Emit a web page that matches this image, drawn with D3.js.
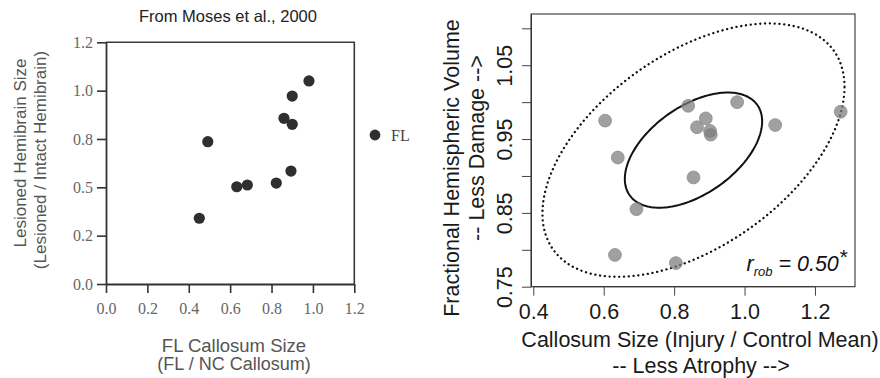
<!DOCTYPE html>
<html>
<head>
<meta charset="utf-8">
<script src="https://cdn.jsdelivr.net/npm/d3@7"></script>
<style>
  body { margin: 0; background: #fff; }
  svg { display: block; }
</style>
</head>
<body>
<svg id="chart" width="880" height="378"></svg>
<script>
// ---- Left panel: Moses et al., 2000 (FL group) ----
const mosesCallosum  = [0.492, 0.981, 0.900, 0.860, 0.900, 0.894, 0.823, 0.632, 0.683, 0.451];
const mosesHemibrain = [0.736, 1.050, 0.972, 0.857, 0.826, 0.584, 0.522, 0.503, 0.512, 0.340];
const mosesXTicks = [0, 0.2, 0.4, 0.6, 0.8, 1.0, 1.2];
const mosesYTicks = [0, 0.25, 0.5, 0.75, 1.0, 1.25];
const mosesYTickLabels = ["0.0", "0.2", "0.5", "0.8", "1.0", "1.2"];

// ---- Right panel: callosum size vs. fractional hemispheric volume ----
const callosumSize = [0.604, 0.640, 0.840, 0.890, 0.865, 0.902, 0.904, 0.979, 1.087, 1.273, 0.855, 0.693, 0.632, 0.805];
const hemisphericVolume = [0.975, 0.925, 0.995, 0.978, 0.966, 0.961, 0.956, 1.000, 0.969, 0.987, 0.898, 0.855, 0.793, 0.782];
const xTicks = [0.4, 0.6, 0.8, 1.0, 1.2];
const yTicks = [0.75, 0.80, 0.85, 0.90, 0.95, 1.00, 1.05, 1.10];
const yTickLabels = ["0.75", "", "0.85", "", "0.95", "", "1.05", ""];
const rRob = 0.50;
const ellipseCenter = [0.855, 0.935];
const ellipseSpread = [0.195, 0.078];
const ellipseLevels = [1, 2.2];

const svg = d3.select("#chart");
const sans = "'Liberation Sans', Arial, Helvetica, sans-serif";
const serif = "'Liberation Serif', 'Times New Roman', serif";

// ================= Left panel =================
const xL = d3.scaleLinear().domain([0, 1.2]).range([106, 354.3]);
const yL = d3.scaleLinear().domain([0, 1.25]).range([284, 42.3]);
const gL = svg.append("g");

gL.append("text")
  .attr("x", 228).attr("y", 21.5)
  .attr("text-anchor", "middle")
  .style("font-family", sans).style("font-size", "16.5px").style("fill", "#222")
  .text("From Moses et al., 2000");

// frame
gL.append("path")
  .attr("d", `M${xL(0)},${yL(1.25)}H${xL(1.2)}V${yL(0)}`)
  .attr("fill", "none").attr("stroke", "#3a3a3a").attr("stroke-width", 1.6);

const axLy = gL.append("g").attr("transform", `translate(${xL(0)},0)`)
  .call(d3.axisLeft(yL).tickValues(mosesYTicks)
    .tickFormat((d, i) => mosesYTickLabels[i]).tickSize(9).tickSizeOuter(0).tickPadding(4));
const axLx = gL.append("g").attr("transform", `translate(0,${yL(0)})`)
  .call(d3.axisBottom(xL).tickValues(mosesXTicks)
    .tickFormat(d3.format(".1f")).tickSize(9).tickSizeOuter(0).tickPadding(10));
[axLy, axLx].forEach(ax => {
  ax.select(".domain").attr("stroke", "#333").attr("stroke-width", 1.8);
  ax.selectAll(".tick line").attr("stroke", "#333").attr("stroke-width", 1.6);
  ax.selectAll(".tick text").style("font-family", serif).style("font-size", "16px").style("fill", "#666");
});

gL.selectAll("circle.fl")
  .data(mosesCallosum.map((x, i) => [x, mosesHemibrain[i]]))
  .join("circle").attr("class", "fl")
  .attr("cx", d => xL(d[0])).attr("cy", d => yL(d[1]))
  .attr("r", 5.6).attr("fill", "#2f2f2f");

// legend
gL.append("circle").attr("cx", 375).attr("cy", 135).attr("r", 5.4).attr("fill", "#2f2f2f");
gL.append("text").attr("x", 391).attr("y", 141)
  .style("font-family", serif).style("font-size", "16px").style("fill", "#444").text("FL");

// axis titles
gL.append("text").attr("transform", "translate(26,153) rotate(-90)")
  .attr("text-anchor", "middle")
  .style("font-family", sans).style("font-size", "17px").style("fill", "#555")
  .text("Lesioned Hemibrain Size");
gL.append("text").attr("transform", "translate(46,160) rotate(-90)")
  .attr("text-anchor", "middle")
  .style("font-family", sans).style("font-size", "17px").style("fill", "#555")
  .text("(Lesioned / Intact Hemibrain)");
gL.append("text").attr("x", 234).attr("y", 352)
  .attr("text-anchor", "middle")
  .style("font-family", sans).style("font-size", "18.5px").style("fill", "#555")
  .text("FL Callosum Size");
gL.append("text").attr("x", 234).attr("y", 370)
  .attr("text-anchor", "middle")
  .style("font-family", sans).style("font-size", "18px").style("fill", "#555")
  .text("(FL / NC Callosum)");

// ================= Right panel =================
const xR = d3.scaleLinear().domain([0.3935, 1.3137]).range([531, 855]);
const yR = d3.scaleLinear().domain([0.75, 1.1194]).range([286.7, 14]);
const gR = svg.append("g");

gR.append("rect")
  .attr("x", 531).attr("y", 14).attr("width", 855 - 531).attr("height", 286.7 - 14)
  .attr("fill", "none").attr("stroke", "#333").attr("stroke-width", 1.1);

const axRy = gR.append("g").attr("transform", `translate(${xR.range()[0]},0)`)
  .call(d3.axisLeft(yR).tickValues(yTicks)
    .tickFormat((d, i) => yTickLabels[i]).tickSize(9).tickSizeOuter(0));
axRy.selectAll(".tick text")
  .attr("x", 0).attr("dy", null)
  .attr("text-anchor", "middle")
  .attr("transform", "translate(-19.5,0) rotate(-90)");
const axRx = gR.append("g").attr("transform", `translate(0,${yR.range()[0]})`)
  .call(d3.axisBottom(xR).tickValues(xTicks)
    .tickFormat(d3.format(".1f")).tickSize(9).tickSizeOuter(0).tickPadding(8));
axRx.select(".domain").attr("d", `M${xR(xTicks[0])},0H${xR(xTicks[xTicks.length - 1])}`);
[axRy, axRx].forEach(ax => {
  ax.select(".domain").attr("stroke", "#333");
  ax.selectAll(".tick line").attr("stroke", "#444");
  ax.selectAll(".tick text").style("font-family", sans).style("font-size", "21.5px").style("fill", "#1a1a1a");
});

// robust covariance ellipses
const angles = d3.range(0, 361, 2).map(a => a * Math.PI / 180);
const ellipseLine = d3.line().x(d => xR(d[0])).y(d => yR(d[1])).curve(d3.curveLinearClosed);
const ellipsePoints = k => angles.map(t => [
  ellipseCenter[0] + k * ellipseSpread[0] * Math.cos(t),
  ellipseCenter[1] + k * ellipseSpread[1] * (rRob * Math.cos(t) + Math.sqrt(1 - rRob * rRob) * Math.sin(t))
]);
gR.append("path").attr("d", ellipseLine(ellipsePoints(ellipseLevels[1])))
  .attr("fill", "none").attr("stroke", "#111").attr("stroke-width", 2.3)
  .attr("stroke-linecap", "round").attr("stroke-dasharray", "0.1 4.7");
gR.append("path").attr("d", ellipseLine(ellipsePoints(ellipseLevels[0])))
  .attr("fill", "none").attr("stroke", "#111").attr("stroke-width", 2);

gR.selectAll("circle.pt")
  .data(callosumSize.map((x, i) => [x, hemisphericVolume[i]]))
  .join("circle").attr("class", "pt")
  .attr("cx", d => xR(d[0])).attr("cy", d => yR(d[1]))
  .attr("r", 6.4)
  .attr("fill", "#7c7c7c").attr("fill-opacity", 0.72)
  .attr("stroke", "#8c8c8c").attr("stroke-width", 0.8);

// correlation annotation
const lab = gR.append("text").attr("x", 847).attr("y", 271)
  .attr("text-anchor", "end")
  .style("font-family", sans).style("font-style", "italic").style("font-size", "21.5px").style("fill", "#111");
lab.append("tspan").text("r");
lab.append("tspan").attr("dy", 5).style("font-size", "13px").text("rob");
lab.append("tspan").attr("dy", -5).text(" = " + d3.format(".2f")(rRob));
lab.append("tspan").attr("dy", -7).style("font-size", "21px").text("*");

// axis titles
gR.append("text").attr("transform", "translate(459,168) rotate(-90)")
  .attr("text-anchor", "middle")
  .style("font-family", sans).style("font-size", "21.5px").style("fill", "#1a1a1a")
  .text("Fractional Hemispheric Volume");
gR.append("text").attr("transform", "translate(484,148) rotate(-90)")
  .attr("text-anchor", "middle")
  .style("font-family", sans).style("font-size", "21.5px").style("fill", "#1a1a1a")
  .text("-- Less Damage -->");
gR.append("text").attr("x", 700).attr("y", 347)
  .attr("text-anchor", "middle")
  .style("font-family", sans).style("font-size", "21.5px").style("fill", "#1a1a1a")
  .text("Callosum Size (Injury / Control Mean)");
gR.append("text").attr("x", 701).attr("y", 373)
  .attr("text-anchor", "middle")
  .style("font-family", sans).style("font-size", "21.5px").style("fill", "#1a1a1a")
  .text("-- Less Atrophy -->");
</script>
</body>
</html>
